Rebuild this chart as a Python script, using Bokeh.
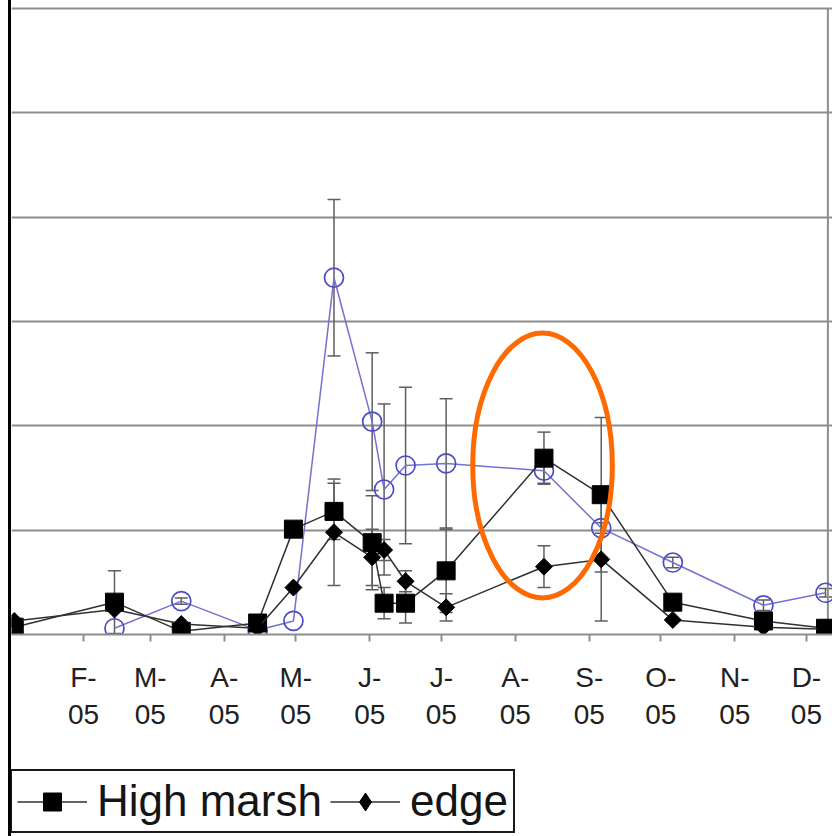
import math
import pandas as pd
from bokeh.plotting import figure
from bokeh.models import (ColumnDataSource, Range1d, FixedTicker, Whisker, TeeHead,
                          Legend, LegendItem, Div, Grid)
from bokeh.layouts import row, column
from bokeh.embed import file_html
from bokeh.resources import INLINE

# ---------------- data ----------------
sample_dates = ["2005-01-03", "2005-02-14", "2005-03-14", "2005-04-15", "2005-04-30",
                "2005-05-17", "2005-06-02", "2005-06-07", "2005-06-16", "2005-07-03",
                "2005-08-13", "2005-09-06", "2005-10-06", "2005-11-13", "2005-12-09"]

low_dates = sample_dates[1:]
low_vals = [0.06, 0.32, 0.04, 0.13, 3.42, 2.04, 1.39, 1.62, 1.64, 1.57, 1.02, 0.69, 0.28, 0.40]
low_err = [0.0, 0.03, 0.0, 0.0, 0.75, 0.66, 0.82, 0.75, 0.62, 0.12, 0.05, 0.05, 0.05, 0.04]

high_vals = [0.07, 0.31, 0.03, 0.11, 1.01, 1.18, 0.88, 0.30, 0.30, 0.61, 1.69, 1.34, 0.31, 0.13, 0.06]
high_err = [0.0, 0.30, 0.0, 0.03, 0.03, 0.27, 0.45, 0.15, 0.19, 0.40, 0.25, 0.74, 0.05, 0.03, 0.0]

edge_vals = [0.13, 0.24, 0.10, 0.06, 0.45, 0.98, 0.74, 0.81, 0.51, 0.26, 0.65, 0.72, 0.14, 0.07, 0.05]
edge_err = [0.0, 0.0, 0.0, 0.0, 0.0, 0.51, 0.27, 0.10, 0.10, 0.13, 0.20, 0.59, 0.0, 0.0, 0.0]

month_starts = ["2005-02-01", "2005-03-01", "2005-04-01", "2005-05-01", "2005-06-01",
                "2005-07-01", "2005-08-01", "2005-09-01", "2005-10-01", "2005-11-01",
                "2005-12-01"]
month_labels = ["F-\n05", "M-\n05", "A-\n05", "M-\n05", "J-\n05", "J-\n05",
                "A-\n05", "S-\n05", "O-\n05", "N-\n05", "D-\n05"]
axis_end_date = "2005-12-10"
y_grid_values = [0, 1, 2, 3, 4, 5, 6]

series_names = ["Low marsh", "High marsh", "edge"]

# highlighted region (orange ellipse): centre date, centre value, span in days / units
highlight_center_date = "2005-08-12"
highlight_center_value = 1.62
highlight_span_days = 58.5
highlight_span_value = 2.54

# ---------------- helpers ----------------
origin = pd.Timestamp("2005-01-01")


def day_of_year(ds):
    return [(pd.Timestamp(d) - origin).days for d in ds]


x_all = day_of_year(sample_dates)
x_low = day_of_year(low_dates)
tick_days = day_of_year(month_starts)
x_end = day_of_year([axis_end_date])[0]
hl_x = day_of_year([highlight_center_date])[0] + 0.4


def err_source(xs, vals, errs):
    keep = [i for i, e in enumerate(errs) if e > 0]
    return ColumnDataSource(dict(
        x=[xs[i] for i in keep],
        lo=[vals[i] - errs[i] for i in keep],
        hi=[vals[i] + errs[i] for i in keep],
    ))


# ---------------- styles ----------------
FONT = "Liberation Sans"
GRID = "#8e8e8e"
ERR = "#5e5e5e"
LOW_LINE = "#7272d0"
LOW_MARK = "#4c4cc6"
DARK = "#303030"
ORANGE = "#ff6a00"

# ---------------- main figure ----------------
p = figure(frame_width=821, frame_height=634, output_backend="svg", toolbar_location=None,
           x_range=Range1d(0.84, 344.93), y_range=Range1d(0, 6.077),
           y_axis_location=None, min_border=0, min_border_left=0, min_border_right=0,
           min_border_top=0, min_border_bottom=0)
p.outline_line_color = None
p.background_fill_color = "white"
p.border_fill_color = "white"
for g in p.grid:
    g.visible = False

ygrid = Grid(dimension=1, ticker=FixedTicker(ticks=y_grid_values),
             grid_line_color=GRID, grid_line_width=2)
p.add_layout(ygrid)

# right border of the plot area
p.segment(x0=[x_end], y0=[y_grid_values[0]], x1=[x_end], y1=[y_grid_values[-1]],
          line_color=GRID, line_width=2)

ax = p.xaxis[0]
ax.ticker = FixedTicker(ticks=tick_days)
ax.major_label_overrides = {d: lab for d, lab in zip(tick_days, month_labels)}
ax.axis_line_color = GRID
ax.axis_line_width = 2
ax.major_tick_line_color = GRID
ax.major_tick_line_width = 2
ax.major_tick_in = 0
ax.major_tick_out = 7
ax.minor_tick_line_color = None
ax.major_label_text_font = FONT
ax.major_label_text_font_size = "28px"
ax.major_label_text_color = "#202020"
ax.major_label_standoff = 20

# error bars
for xs, vals, errs in [(x_low, low_vals, low_err), (x_all, high_vals, high_err),
                       (x_all, edge_vals, edge_err)]:
    w = Whisker(base="x", lower="lo", upper="hi", source=err_source(xs, vals, errs),
                dimension="height", line_color=ERR, line_width=1.5, level="underlay",
                upper_head=TeeHead(size=13, line_color=ERR, line_width=1.5),
                lower_head=TeeHead(size=13, line_color=ERR, line_width=1.5))
    p.add_layout(w)

src_low = ColumnDataSource(dict(x=x_low, y=low_vals))
src_high = ColumnDataSource(dict(x=x_all, y=high_vals))
src_edge = ColumnDataSource(dict(x=x_all, y=edge_vals))

p.line("x", "y", source=src_low, line_color=LOW_LINE, line_width=1.5)
p.scatter("x", "y", source=src_low, marker="circle", size=19,
          fill_color=None, line_color=LOW_MARK, line_width=1.7)

p.line("x", "y", source=src_high, line_color=DARK, line_width=1.5)
p.scatter("x", "y", source=src_high, marker="square", size=18,
          fill_color="black", line_color="black")

p.line("x", "y", source=src_edge, line_color=DARK, line_width=1.5)
p.scatter("x", "y", source=src_edge, marker="square", size=12,
          angle=math.pi / 4, fill_color="black", line_color="black")

# orange highlight ellipse
p.ellipse(x=[hl_x], y=[highlight_center_value], width=highlight_span_days,
          height=highlight_span_value, fill_color=None, line_color=ORANGE, line_width=5)

# ---------------- legend strip (separate figure below) ----------------
# same data sources, but ranges chosen so that no data falls in its frame:
# only the legend entries are visible here.
lg = figure(width=821, height=102, output_backend="svg", toolbar_location=None,
            x_range=Range1d(-20, -10), y_range=Range1d(-20, -10),
            x_axis_location=None, y_axis_location=None, min_border=0,
            min_border_left=0, min_border_right=0, min_border_top=0, min_border_bottom=0)
lg.outline_line_color = None
lg.background_fill_color = "white"
lg.border_fill_color = "white"
for g in lg.grid:
    g.visible = False

lh_line = lg.line("x", "y", source=src_high, line_color=DARK, line_width=1.5)
lh_pts = lg.scatter("x", "y", source=src_high, marker="square", size=18,
                    fill_color="black", line_color="black")
le_line = lg.line("x", "y", source=src_edge, line_color=DARK, line_width=1.5)
le_pts = lg.scatter("x", "y", source=src_edge, marker="diamond", size=18,
                    fill_color="black", line_color="black")

legend = Legend(items=[LegendItem(label=series_names[1], renderers=[lh_line, lh_pts]),
                       LegendItem(label=series_names[2], renderers=[le_line, le_pts])],
                orientation="horizontal", location=(-1, 1), margin=0, padding=5,
                spacing=8, glyph_width=70, glyph_height=45, label_standoff=10,
                label_text_font=FONT, label_text_font_size="44px",
                label_text_color="#151515", border_line_color="#1a1a1a",
                border_line_alpha=1.0, border_line_width=2,
                background_fill_color="white", background_fill_alpha=1.0)
lg.add_layout(legend)

edge_div = Div(text="", width=11, height=836, margin=0,
               styles={"border-right": "3px solid black", "box-sizing": "border-box",
                       "background": "white"})

layout = row(edge_div, column(p, lg, spacing=0), spacing=0)

open("out.html", "w").write(file_html(layout, INLINE))
